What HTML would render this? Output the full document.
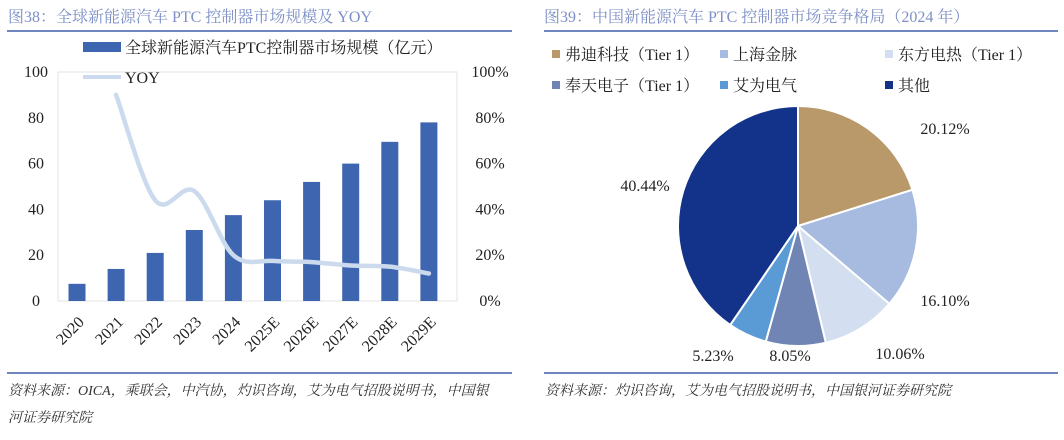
<!DOCTYPE html>
<html><head><meta charset="utf-8">
<style>
body{margin:0;width:1064px;height:435px;background:#fff;overflow:hidden;font-family:"Liberation Serif","Noto Serif CJK SC",serif;}
svg text{font-family:"Liberation Serif","Noto Serif CJK SC",serif;}
</style></head><body>
<svg id="s" width="1064" height="435" xmlns="http://www.w3.org/2000/svg">
<text x="8" y="22" font-size="16" fill="#7d8fc6">图38：全球新能源汽车 PTC 控制器市场规模及 YOY</text>
<line x1="7" y1="31" x2="512" y2="31" stroke="#6f85c0" stroke-width="2"/>
<text x="544" y="22" font-size="16" fill="#7d8fc6">图39：中国新能源汽车 PTC 控制器市场竞争格局（2024 年）</text>
<line x1="544" y1="31" x2="1058" y2="31" stroke="#6f85c0" stroke-width="2"/>
<rect x="58" y="72" width="399" height="229" fill="none" stroke="#e3e3e3"/>
<rect x="83" y="42" width="38" height="10" fill="#3e66b0"/>
<text x="125" y="53" font-size="16" fill="#222">全球新能源汽车PTC控制器市场规模（亿元）</text>
<line x1="83" y1="77" x2="121" y2="77" stroke="#ccdaee" stroke-width="4"/>
<text x="125" y="83" font-size="16" fill="#222">YOY</text>
<g id="left"></g><g id="pie"></g>
<line x1="7" y1="373" x2="512" y2="373" stroke="#6f85c0" stroke-width="2"/>
<text x="8" y="395" font-size="14" font-style="italic" fill="#333">资料来源：OICA，乘联会，中汽协，灼识咨询，艾为电气招股说明书，中国银</text>
<text x="8" y="422" font-size="14" font-style="italic" fill="#333">河证券研究院</text>
<line x1="544" y1="373" x2="1058" y2="373" stroke="#6f85c0" stroke-width="2"/>
<text x="545" y="395" font-size="14" font-style="italic" fill="#333">资料来源：灼识咨询，艾为电气招股说明书，中国银河证券研究院</text>
</svg>
<script>
const years=["2020","2021","2022","2023","2024","2025E","2026E","2027E","2028E","2029E"];
const market=[7.5,14,21,31,37.5,44,52,60,69.5,78];
const yoy=[null,90,44,48,20,17.5,17,15.5,15,12];
const yTicks=[0,20,40,60,80,100];
const pctTicks=["0%","20%","40%","60%","80%","100%"];
const pieLabels=["弗迪科技（Tier 1）","上海金脉","东方电热（Tier 1）","奉天电子（Tier 1）","艾为电气","其他"];
const pieValues=[20.12,16.10,10.06,8.05,5.23,40.44];
const pieColors=["#b9986a","#a7badf","#d3dff0","#7185b5","#5b9bd5","#13338a"];
const NS="http://www.w3.org/2000/svg";
function mk(t,a,p){const e=document.createElementNS(NS,t);for(const k in a)e.setAttribute(k,a[k]);p.appendChild(e);return e;}
const L=document.getElementById('left');
const y0=301,ppu=2.29;
const yS=v=>y0-v*ppu, pS=v=>y0-v*ppu, xS=i=>77+i*39.1;
yTicks.forEach((t,i)=>{
 const a=mk('text',{x:36,y:yS(t)+5,'font-size':16,'text-anchor':'middle',fill:'#222'},L);a.textContent=t;
 
 
 const b=mk('text',{x:490,y:pS(t)+5,'font-size':16,'text-anchor':'middle',fill:'#222'},L);b.textContent=pctTicks[i];
 
 
});
years.forEach((y,i)=>{
 const r=mk('rect',{x:xS(i)-8.5,y:yS(market[i]),width:17,height:market[i]*ppu,fill:'#3e66b0'},L);
 
 
 const t=mk('text',{'font-size':16,'text-anchor':'end',fill:'#222',transform:`translate(${xS(i)+8},${y0+22}) rotate(-45)`},L);t.textContent=y;
 
 
});
const pts=[];yoy.forEach((v,i)=>{if(v!==null)pts.push([xS(i),pS(v)]);});
let d=`M${pts[0][0]},${pts[0][1]}`;
for(let i=0;i<pts.length-1;i++){const p0=pts[i-1]||pts[i],p1=pts[i],p2=pts[i+1],p3=pts[i+2]||p2;
 d+=` C${p1[0]+(p2[0]-p0[0])/6},${p1[1]+(p2[1]-p0[1])/6} ${p2[0]-(p3[0]-p1[0])/6},${p2[1]-(p3[1]-p1[1])/6} ${p2[0]},${p2[1]}`;}
const ln=mk('path',{d:d,fill:'none',stroke:'#ccdaee','stroke-width':4.5,'stroke-linecap':'round'},L);


const P=document.getElementById('pie');
const cx=798,cy=226,R=120;
const legX=[552,720,885],legY=[55,86];
pieLabels.forEach((lab,i)=>{
 const lx=legX[i%3],ly=legY[Math.floor(i/3)];
 const s=mk('rect',{x:lx,y:ly-5,width:8,height:8,fill:pieColors[i]},P);
 
 
 const t=mk('text',{x:lx+13,y:ly+5,'font-size':16,fill:'#222'},P);t.textContent=lab;
 
 
});
const tot=pieValues.reduce((a,b)=>a+b,0);
let ang=0;
const lblPos=[[945,134],[945,306],[900,359],[790,361],[713,361],[645,191]];
pieValues.forEach((v,i)=>{
 const a0=ang,a1=ang+v/tot*2*Math.PI;ang=a1;
 const p=a=>[cx+R*Math.sin(a),cy-R*Math.cos(a)];
 const [x0,y0_]=p(a0),[x1,y1]=p(a1);
 const sl=mk('path',{d:`M${cx},${cy} L${x0},${y0_} A${R},${R} 0 ${a1-a0>Math.PI?1:0} 1 ${x1},${y1} Z`,fill:pieColors[i],stroke:'#fff','stroke-width':2},P);
 
 
 const t=mk('text',{x:lblPos[i][0],y:lblPos[i][1],'font-size':16,'text-anchor':'middle',fill:'#222'},P);t.textContent=v.toFixed(2)+'%';
 
 
});
</script>
</body></html>
